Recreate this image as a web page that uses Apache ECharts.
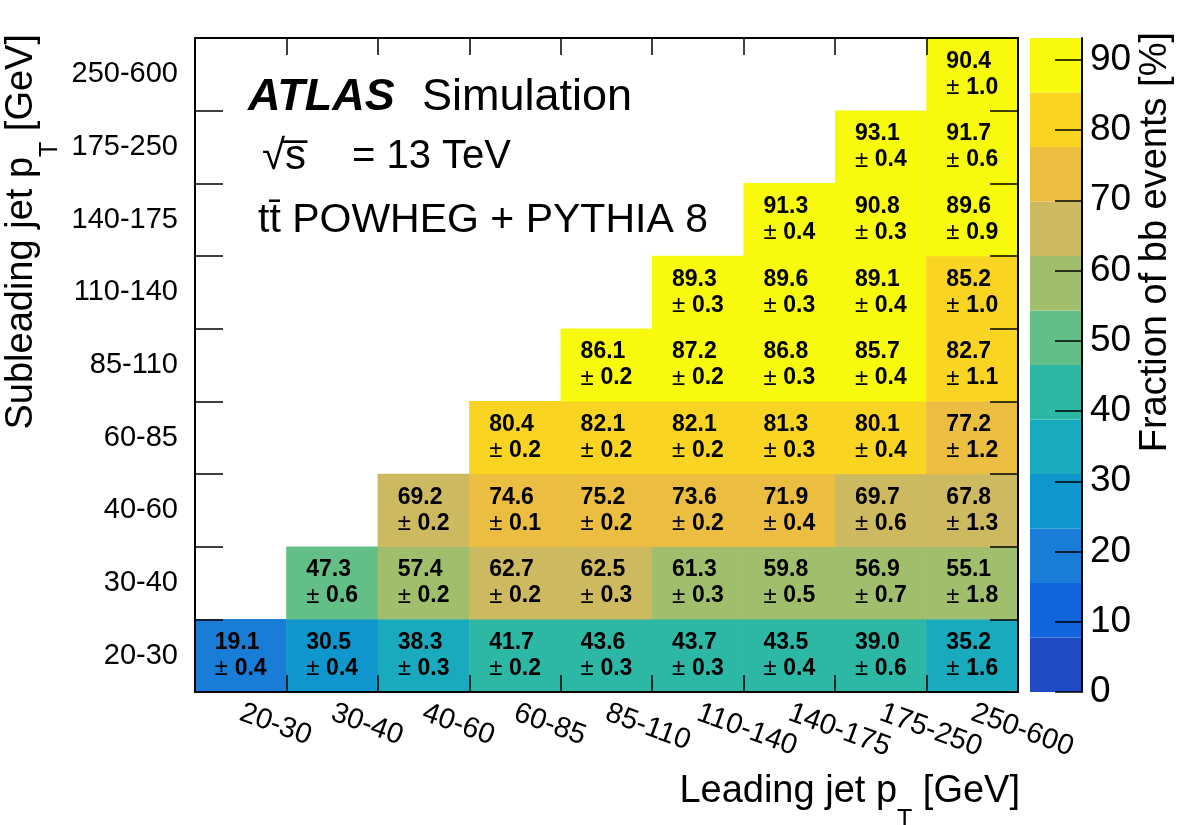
<!DOCTYPE html>
<html>
<head>
<meta charset="utf-8">
<script src="https://cdn.jsdelivr.net/npm/echarts@6/dist/echarts.min.js"></script>
<style>
  html, body { margin: 0; padding: 0; background: #fff; }
  #chart { width: 1182px; height: 825px; }
</style>
</head>
<body>
<div id="chart"></div>
<script>
// pT bins [GeV]
const leadingBins = ['20-30', '30-40', '40-60', '60-85', '85-110', '110-140', '140-175', '175-250', '250-600']
const subleadingBins = ['20-30', '30-40', '40-60', '60-85', '85-110', '110-140', '140-175', '175-250', '250-600']

// fraction of bb events [%], one row per subleading bin (bottom to top),
// each row starts at the diagonal (leading bin index == row index)
const fracRows = [
  [19.1, 30.5, 38.3, 41.7, 43.6, 43.7, 43.5, 39.0, 35.2],
  [47.3, 57.4, 62.7, 62.5, 61.3, 59.8, 56.9, 55.1],
  [69.2, 74.6, 75.2, 73.6, 71.9, 69.7, 67.8],
  [80.4, 82.1, 82.1, 81.3, 80.1, 77.2],
  [86.1, 87.2, 86.8, 85.7, 82.7],
  [89.3, 89.6, 89.1, 85.2],
  [91.3, 90.8, 89.6],
  [93.1, 91.7],
  [90.4]
]
const errRows = [
  [0.4, 0.4, 0.3, 0.2, 0.3, 0.3, 0.4, 0.6, 1.6],
  [0.6, 0.2, 0.2, 0.3, 0.3, 0.5, 0.7, 1.8],
  [0.2, 0.1, 0.2, 0.2, 0.4, 0.6, 1.3],
  [0.2, 0.2, 0.2, 0.3, 0.4, 1.2],
  [0.2, 0.2, 0.3, 0.4, 1.1],
  [0.3, 0.3, 0.4, 1.0],
  [0.4, 0.3, 0.9],
  [0.4, 0.6],
  [1.0]
]

// z scale (colour bar)
const zMin = 0
const zMax = 93.1
const colorTicks = [0, 10, 20, 30, 40, 50, 60, 70, 80, 90]
const palette = [
  '#1e4bc3', '#1164dc', '#197dd7', '#0f96cd', '#19aabe', '#2db7a5',
  '#64be87', '#a0be6c', '#cdb95f', '#ebbe41', '#fad423', '#f8fa0d'
]

const FONT = '"Liberation Sans", Arial, Helvetica, sans-serif'

const cells = []
fracRows.forEach((row, r) => {
  row.forEach((v, k) => {
    cells.push([r + k, r, v, errRows[r][k]])
  })
})

const bandWidth = (zMax - zMin) / palette.length
const pieces = palette.map((c, i) => ({
  gte: zMin + i * bandWidth,
  lt: i === palette.length - 1 ? zMax + 1 : zMin + (i + 1) * bandWidth,
  color: c
}))

const frameLine = { show: true, lineStyle: { color: '#000', width: 2 } }
const tickStyle = { color: '#000', width: 1.5 }

const colorBarSeries = palette.map((c, i) => ({
  type: 'bar',
  xAxisIndex: 2,
  yAxisIndex: 2,
  stack: 'zbar',
  barWidth: '100%',
  silent: true,
  data: [bandWidth],
  itemStyle: { color: c }
}))

const chart = echarts.init(document.getElementById('chart'))

chart.setOption({
  animation: false,
  textStyle: { fontFamily: FONT },
  grid: [
    { left: 195, top: 38, width: 823, height: 654 },
    { left: 1030, top: 38, width: 52, height: 654 }
  ],
  xAxis: [
    {
      type: 'category',
      gridIndex: 0,
      data: leadingBins,
      position: 'bottom',
      z: 10,
      axisLine: frameLine,
      axisTick: { show: true, inside: true, length: 17, lineStyle: tickStyle },
      axisLabel: {
        interval: 0,
        rotate: -20,
        margin: 20,
        fontSize: 29,
        color: '#000',
        fontFamily: FONT
      },
      splitLine: { show: false }
    },
    {
      type: 'category',
      gridIndex: 0,
      data: leadingBins,
      position: 'top',
      z: 10,
      axisLine: frameLine,
      axisTick: { show: true, inside: true, length: 17, lineStyle: tickStyle },
      axisLabel: { show: false },
      splitLine: { show: false }
    },
    {
      type: 'category',
      gridIndex: 1,
      data: ['z'],
      show: false
    }
  ],
  yAxis: [
    {
      type: 'category',
      gridIndex: 0,
      data: subleadingBins,
      position: 'left',
      z: 10,
      axisLine: frameLine,
      axisTick: { show: true, inside: true, length: 28, lineStyle: tickStyle },
      axisLabel: {
        interval: 0,
        margin: 17,
        fontSize: 29,
        color: '#000',
        fontFamily: FONT
      },
      splitLine: { show: false }
    },
    {
      type: 'category',
      gridIndex: 0,
      data: subleadingBins,
      position: 'right',
      z: 10,
      axisLine: frameLine,
      axisTick: { show: true, inside: true, length: 28, lineStyle: tickStyle },
      axisLabel: { show: false },
      splitLine: { show: false }
    },
    {
      type: 'value',
      gridIndex: 1,
      min: zMin,
      max: zMax,
      position: 'right',
      z: 10,
      axisLine: frameLine,
      axisTick: { show: true, inside: true, length: 27, customValues: colorTicks, lineStyle: tickStyle },
      axisLabel: {
        customValues: colorTicks,
        margin: 8,
        fontSize: 37,
        color: '#000',
        fontFamily: FONT
      },
      splitLine: { show: false }
    }
  ],
  visualMap: {
    type: 'piecewise',
    show: false,
    seriesIndex: 0,
    dimension: 2,
    pieces: pieces
  },
  series: [
    {
      type: 'heatmap',
      xAxisIndex: 0,
      yAxisIndex: 0,
      data: cells,
      itemStyle: { borderWidth: 0 },
      label: {
        show: true,
        formatter: p => '{v|' + p.value[2].toFixed(1) + '}\n{pm|± }{e|' + p.value[3].toFixed(1) + '}',
        rich: {
          v: { fontSize: 23, fontWeight: 'bold', align: 'left', lineHeight: 26, color: '#000', fontFamily: FONT },
          pm: { fontSize: 24, align: 'left', lineHeight: 26, color: '#000', fontFamily: FONT },
          e: { fontSize: 23, fontWeight: 'bold', align: 'left', lineHeight: 26, color: '#000', fontFamily: FONT }
        }
      },
      emphasis: { disabled: true }
    }
  ].concat(colorBarSeries),
  graphic: [
    {
      type: 'text', x: 248, y: 98,
      style: { text: 'ATLAS', font: 'italic bold 45px ' + FONT, fill: '#000', verticalAlign: 'middle' }
    },
    {
      type: 'text', x: 422, y: 98,
      style: { text: 'Simulation', font: '45px ' + FONT, fill: '#000', verticalAlign: 'middle' }
    },
    {
      type: 'text', x: 262, y: 157,
      style: { text: '√s̅', font: '42px ' + FONT, fill: '#000', verticalAlign: 'middle' }
    },
    {
      type: 'text', x: 352, y: 157,
      style: { text: '= 13 TeV', font: '40px ' + FONT, fill: '#000', verticalAlign: 'middle' }
    },
    {
      type: 'text', x: 258, y: 221,
      style: { text: 'tt̄ POWHEG + PYTHIA 8', font: '41px ' + FONT, fill: '#000', verticalAlign: 'middle' }
    },
    {
      type: 'text', x: 1020, y: 792,
      style: {
        text: '{m|Leading jet p}{s|T}{m| [GeV]}',
        align: 'right',
        verticalAlign: 'middle',
        rich: {
          m: { fontSize: 38, fontFamily: FONT, color: '#000' },
          s: { fontSize: 25, fontFamily: FONT, color: '#000', padding: [56, 0, 0, 0] }
        }
      }
    },
    {
      type: 'text', x: 22, y: 34, rotation: Math.PI / 2,
      style: {
        text: '{m|Subleading jet p}{s|T}{m| [GeV]}',
        align: 'right',
        verticalAlign: 'middle',
        rich: {
          m: { fontSize: 38, fontFamily: FONT, color: '#000' },
          s: { fontSize: 25, fontFamily: FONT, color: '#000', padding: [56, 0, 0, 0] }
        }
      }
    },
    {
      type: 'text', x: 1156, y: 32, rotation: Math.PI / 2,
      style: {
        text: 'Fraction of bb events [%]',
        font: '38px ' + FONT,
        fill: '#000',
        align: 'right',
        verticalAlign: 'middle'
      }
    }
  ]
})
</script>
</body>
</html>
